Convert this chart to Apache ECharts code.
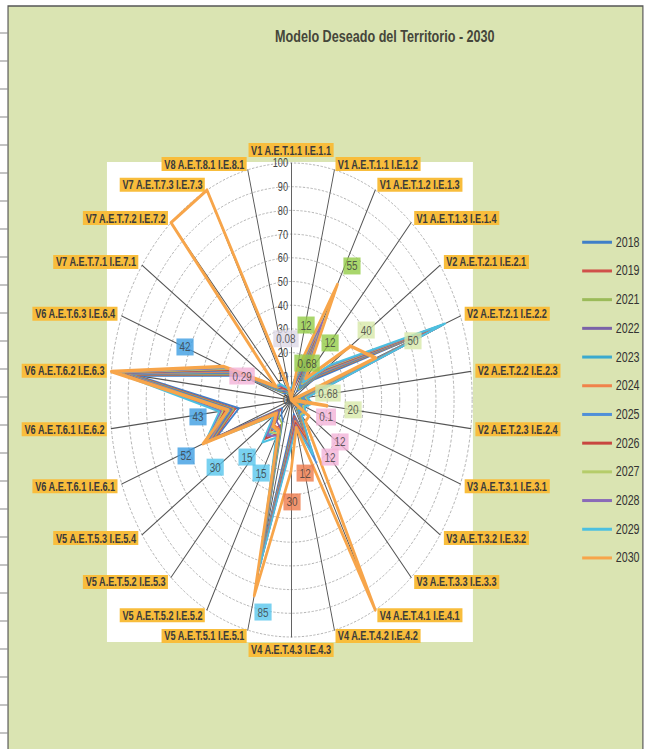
<!DOCTYPE html>
<html>
<head>
<meta charset="utf-8">
<script src="https://cdn.jsdelivr.net/npm/echarts@6/dist/echarts.min.js"></script>
<style>
  html, body { margin: 0; padding: 0; background: #fff; overflow: hidden; }
  /* the source picture is squeezed sideways, so the whole chart is drawn wide and scaled */
  #chart { position: absolute; left: 0; top: 0; width: 855px; height: 749px;
           transform: scaleX(0.764); transform-origin: 0 0; }
</style>
</head>
<body>
<div id="chart"></div>
<script>
// indicators, clockwise from the top
const indicators = [
  "V1 A.E.T.1.1 I.E.1.1", "V1 A.E.T.1.1 I.E.1.2", "V1 A.E.T.1.2 I.E.1.3", "V1 A.E.T.1.3 I.E.1.4",
  "V2 A.E.T.2.1 I.E.2.1", "V2 A.E.T.2.1 I.E.2.2", "V2 A.E.T.2.2 I.E.2.3", "V2 A.E.T.2.3 I.E.2.4",
  "V3 A.E.T.3.1 I.E.3.1", "V3 A.E.T.3.2 I.E.3.2", "V3 A.E.T.3.3 I.E.3.3",
  "V4 A.E.T.4.1 I.E.4.1", "V4 A.E.T.4.2 I.E.4.2", "V4 A.E.T.4.3 I.E.4.3",
  "V5 A.E.T.5.1 I.E.5.1", "V5 A.E.T.5.2 I.E.5.2", "V5 A.E.T.5.2 I.E.5.3", "V5 A.E.T.5.3 I.E.5.4",
  "V6 A.E.T.6.1 I.E.6.1", "V6 A.E.T.6.1 I.E.6.2", "V6 A.E.T.6.2 I.E.6.3", "V6 A.E.T.6.3 I.E.6.4",
  "V7 A.E.T.7.1 I.E.7.1", "V7 A.E.T.7.2 I.E.7.2", "V7 A.E.T.7.3 I.E.7.3", "V8 A.E.T.8.1 I.E.8.1"
];

const years = ["2018", "2019", "2021", "2022", "2023", "2024", "2025", "2026", "2027", "2028", "2029", "2030"];

const s2018 = [2, 6, 18, 5, 15, 84, 4, 6, 3, 5, 4, 20, 6, 12, 66, 10, 8, 6, 44, 29, 86, 29, 5, 4, 3, 2];
const s2019 = [3, 5, 20, 6, 17, 85, 5, 7, 4, 6, 5, 18, 7, 14, 68, 12, 18, 7, 45, 31, 88, 30, 6, 5, 4, 2];
const s2021 = [2, 7, 22, 6, 18, 86, 5, 8, 4, 6, 5, 15, 8, 15, 69, 11, 10, 8, 46, 32, 90, 31, 6, 5, 3, 3];
const s2022 = [3, 6, 24, 7, 19, 87, 6, 8, 5, 7, 6, 16, 8, 16, 70, 13, 12, 8, 47, 33, 91, 32, 7, 5, 4, 3];
const s2023 = [3, 7, 26, 7, 20, 88, 6, 9, 5, 7, 6, 22, 9, 16, 70, 14, 20, 9, 48, 34, 92, 33, 7, 6, 4, 3];
const s2024 = [4, 8, 28, 8, 21, 88, 7, 9, 6, 8, 7, 18, 9, 17, 71, 14, 14, 9, 48, 35, 93, 34, 8, 6, 5, 3];
const s2025 = [4, 8, 30, 8, 22, 89, 7, 10, 6, 8, 7, 30, 10, 18, 71, 15, 16, 10, 49, 36, 94, 35, 8, 7, 5, 4];
const s2026 = [4, 9, 32, 9, 23, 89, 8, 10, 7, 9, 8, 20, 10, 18, 72, 16, 22, 10, 50, 37, 95, 36, 9, 7, 5, 4];
const s2027 = [5, 9, 35, 9, 24, 90, 8, 11, 7, 9, 8, 22, 11, 19, 72, 16, 18, 11, 50, 38, 96, 37, 9, 8, 6, 4];
const s2028 = [5, 10, 38, 10, 25, 90, 9, 11, 8, 10, 9, 24, 11, 19, 73, 17, 20, 11, 51, 39, 97, 38, 10, 8, 6, 5];
const s2029 = [5, 10, 55, 10, 26, 91, 9, 12, 8, 10, 9, 26, 12, 20, 73, 18, 24, 12, 51, 40, 98, 39, 10, 9, 6, 5];
const s2030 = [0.08, 12, 55, 12, 40, 50, 0.68, 20, 0.1, 12, 12, 100, 12, 30, 85, 15, 15, 10, 52, 35, 100, 40, 10, 100, 100, 5];

const seriesValues = [s2018, s2019, s2021, s2022, s2023, s2024, s2025, s2026, s2027, s2028, s2029, s2030];

const yearColors = ["#3f7fc8", "#d0504a", "#9bbb59", "#7a62a8", "#3aa9cf", "#f0824a",
                    "#4f8fd8", "#c8463f", "#b5cc6a", "#8a6ab8", "#4cc0e0", "#f7a54a"];

const radialTicks = [0, 10, 20, 30, 40, 50, 60, 70, 80, 90, 100];

// data label texts shown in the boxes, and where they sit (value, indicator position)
const labelTexts = ["100", "100", "55", "42", "0.29", "43", "52", "30", "15", "15", "12", "30", "0.08",
                    "12", "0.68", "12", "40", "50", "0.68", "20", "0.1", "12", "12", "100", "85"];
const labelAnchors = [
  [101.7, 24.43], [101.8, 22.57], [65.8, 2.22], [62.7, 21.01], [28.9, 20.98], [51.9, 18.93],
  [62.6, 17.9], [50.6, 17.04], [34.2, 16.27], [35.0, 15.04], [31.8, 11.98], [43.0, 12.95],
  [26.0, 25.55], [32.7, 1.06], [17.9, 2.13], [32.3, 3.02], [50.9, 3.94], [71.8, 5.03],
  [20.6, 5.91], [34.5, 7.0], [20.6, 7.97], [32.3, 8.9], [32.3, 9.98], [100.8, 10.55], [90.8, 13.71]
];
const labelFills = ["#f2b3d8", "#f2b3d8", "#93cc47", "#3d9de2", "#f2b3d8", "#3d9de2", "#3d9de2",
                    "#58c6ec", "#58c6ec", "#58c6ec", "#ee7b4b", "#ee7b4b", "#ddd8e6", "#93cc47",
                    "#93cc47", "#93cc47", "#d7e8a9", "#d7e8a9", "#d7e8a9", "#d7e8a9", "#f2b3d8",
                    "#f2b3d8", "#f2b3d8", "#ee7b4b", "#58c6ec"];

const FONT = "Liberation Sans";
const CX = 381, CY = 400, R = 237;

// radar in echarts runs counter-clockwise, so feed it in reverse after the first one
const order = [0];
for (let i = indicators.length - 1; i > 0; i--) order.push(i);

const radarIndicators = order.map((i) => {
  const ind = { name: indicators[i], min: 0, max: 100 };
  if (i === 0) {
    ind.axisLabel = { show: true, color: "#444", fontSize: 12, fontFamily: FONT, margin: 4 };
  }
  return ind;
});

const radarSeries = years.map((y, k) => ({
  name: y,
  type: "radar",
  symbol: "none",
  z: 2 + k * 0.01,
  itemStyle: { color: yearColors[k] },
  lineStyle: { color: yearColors[k], width: y === "2030" ? 3.5 : 2 },
  data: [{ name: y, value: order.map((i) => seriesValues[k][i]) }],
}));

// left strip of spreadsheet rows
const rowLines = [];
for (let y = 33; y < 749; y += 28) {
  rowLines.push({ type: "line", z: -9, shape: { x1: 0, y1: y, x2: 10, y2: y },
                  style: { stroke: "#777", lineWidth: 1 } });
}

const chart = echarts.init(document.getElementById("chart"), null, { renderer: "svg" });

chart.setOption({
  animation: false,
  title: {
    text: "Modelo Deseado del Territorio - 2030",
    left: 355,
    top: 23,
    textStyle: { fontSize: 16.5, fontWeight: "bold", color: "#45463a", fontFamily: FONT },
  },
  legend: {
    data: years,
    orient: "vertical",
    left: 757,
    top: 230,
    icon: "rect",
    itemWidth: 39,
    itemHeight: 3,
    itemGap: 14.2,
    textStyle: { fontSize: 14, color: "#333", fontFamily: FONT, lineHeight: 14.5 },
  },
  graphic: [
    { type: "rect", z: -10, shape: { x: 10.5, y: 6, width: 831, height: 760 },
      style: { fill: "#dae4b2", stroke: "#555", lineWidth: 1.5 } },
    { type: "rect", z: -8, shape: { x: 140, y: 162, width: 479, height: 480 },
      style: { fill: "#ffffff" } },
    ...rowLines,
  ],
  radar: {
    center: [CX, CY],
    radius: R,
    shape: "circle",
    splitNumber: radialTicks.length - 1,
    indicator: radarIndicators,
    nameGap: 6,
    axisName: {
      color: "#3a3a3a",
      backgroundColor: "#f8bd3c",
      padding: [1, 3],
      fontSize: 12,
      fontWeight: "bold",
      fontFamily: FONT,
    },
    axisLine: { lineStyle: { color: "#555", width: 1.2 } },
    splitLine: { lineStyle: { color: "#aaa", width: 1, type: [3, 2] } },
    splitArea: { show: false },
    axisTick: { show: false },
    axisLabel: { show: false },
  },
  polar: { center: [CX, CY], radius: R },
  angleAxis: {
    type: "value", min: 0, max: indicators.length, startAngle: 90, clockwise: true,
    axisLine: { show: false }, axisTick: { show: false }, axisLabel: { show: false },
    splitLine: { show: false },
  },
  radiusAxis: {
    min: 0, max: 100,
    axisLine: { show: false }, axisTick: { show: false }, axisLabel: { show: false },
    splitLine: { show: false },
  },
  series: [
    ...radarSeries,
    {
      type: "scatter",
      coordinateSystem: "polar",
      z: 10,
      symbolSize: 1,
      itemStyle: { color: "rgba(0,0,0,0)" },
      data: labelAnchors.map((a, i) => ({
        value: a,
        label: {
          show: true,
          position: "inside",
          formatter: labelTexts[i],
          backgroundColor: labelFills[i],
          color: "#3a3a3a",
          fontSize: 13,
          fontFamily: FONT,
          padding: [2, 4],
        },
      })),
    },
  ],
});
</script>
</body>
</html>
